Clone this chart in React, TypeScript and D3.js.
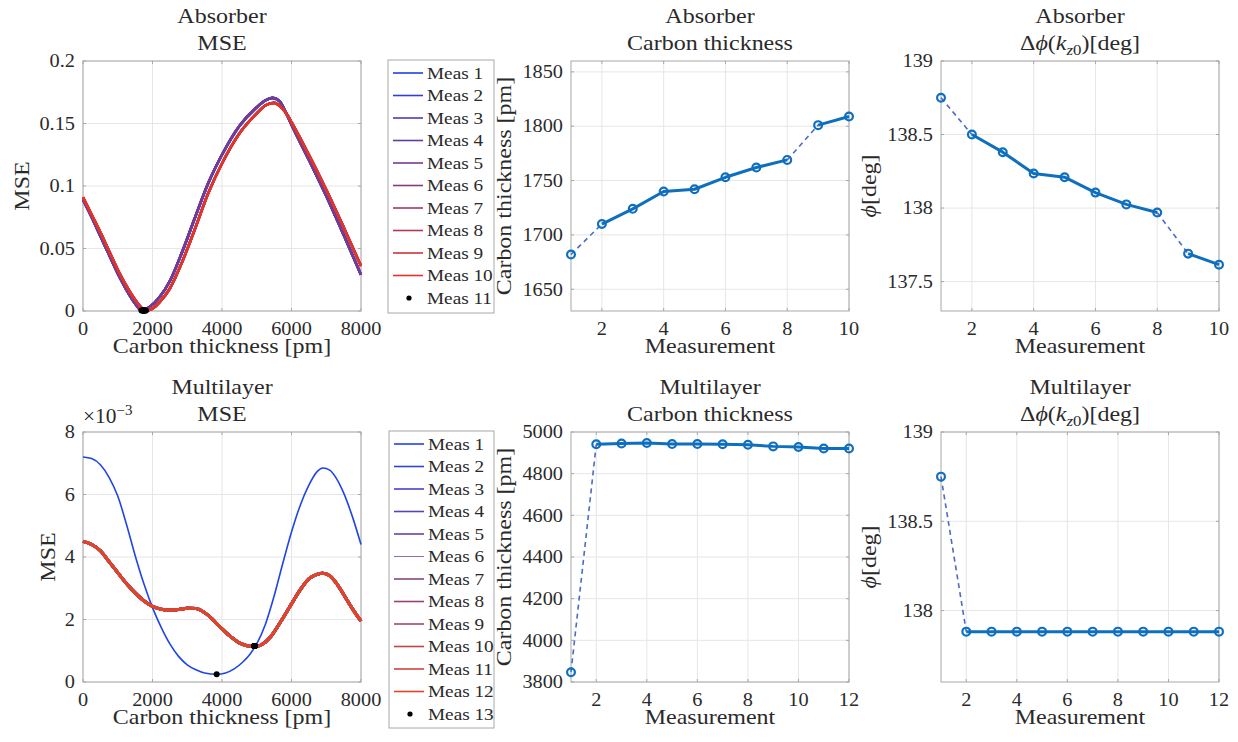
import React from "react";
import * as d3 from "d3";

// ---------------- data ----------------
const absorberMeasurements = [1, 2, 3, 4, 5, 6, 7, 8, 9, 10];
const absorberThickness = [1682, 1710, 1724, 1740, 1742, 1753, 1762, 1769, 1801, 1809];
const absorberPhase = [138.75, 138.5, 138.38, 138.235, 138.21, 138.105, 138.025, 137.97, 137.69, 137.615];
const absorberDashedFrom = [0, 7];

const multilayerMeasurements = [1, 2, 3, 4, 5, 6, 7, 8, 9, 10, 11, 12];
const multilayerThickness = [3847, 4941, 4945, 4947, 4942, 4942, 4941, 4939, 4931, 4928, 4921, 4921];
const multilayerPhase = [138.75, 137.882, 137.882, 137.882, 137.882, 137.882, 137.882, 137.882, 137.882, 137.882, 137.882, 137.882];
const multilayerDashedFrom = [0];

// MSE scans (thickness pm, MSE)
const absorberMseFirstX = [0, 250, 500, 750, 1000, 1250, 1500, 1682, 1900, 2200, 2500, 2850, 3200, 3600, 4000, 4500, 5000, 5250, 5450, 5650, 5850, 6000, 6500, 7000, 7500, 8000];
const absorberMseFirstY = [0.089, 0.075, 0.06, 0.045, 0.03, 0.017, 0.006, 0.0005, 0.003, 0.011, 0.024, 0.047, 0.073, 0.102, 0.125, 0.148, 0.163, 0.1685, 0.1705, 0.168, 0.158, 0.149, 0.121, 0.092, 0.061, 0.029];
const absorberMseLastX = [0, 250, 500, 750, 1000, 1250, 1500, 1809, 2000, 2200, 2500, 2850, 3200, 3600, 4000, 4500, 5000, 5250, 5500, 5700, 5900, 6000, 6500, 7000, 7500, 8000];
const absorberMseLastY = [0.091, 0.077, 0.063, 0.048, 0.033, 0.02, 0.009, 0.0005, 0.002, 0.007, 0.018, 0.039, 0.064, 0.094, 0.118, 0.142, 0.158, 0.1645, 0.1665, 0.163, 0.156, 0.151, 0.125, 0.097, 0.067, 0.036];
const absorberMinMse = 0.0005;

const multilayerMseFirstX = [0, 250, 500, 750, 1000, 1250, 1500, 1750, 2000, 2250, 2500, 2750, 3000, 3250, 3500, 3850, 4100, 4350, 4600, 4800, 5000, 5250, 5500, 5750, 6000, 6250, 6500, 6750, 6900, 7100, 7300, 7500, 7750, 8000];
const multilayerMseFirstY = [7.2, 7.15, 6.95, 6.55, 5.95, 5.05, 4.05, 3.15, 2.38, 1.75, 1.22, 0.82, 0.55, 0.39, 0.29, 0.25, 0.29, 0.42, 0.64, 0.88, 1.22, 1.85, 2.75, 3.8, 4.8, 5.65, 6.3, 6.75, 6.85, 6.78, 6.5, 6.05, 5.3, 4.4].map((v) => v * 1e-3);
const multilayerMseRestX = [0, 250, 500, 750, 1000, 1250, 1500, 1750, 2000, 2250, 2500, 2750, 3000, 3250, 3500, 3750, 4000, 4250, 4500, 4750, 4950, 5150, 5400, 5700, 6000, 6250, 6500, 6750, 6900, 7100, 7300, 7500, 7750, 8000];
const multilayerMseRestY = [4.5, 4.4, 4.2, 3.85, 3.5, 3.15, 2.85, 2.6, 2.42, 2.33, 2.3, 2.32, 2.36, 2.35, 2.22, 1.98, 1.7, 1.45, 1.25, 1.15, 1.13, 1.2, 1.45, 1.95, 2.5, 2.95, 3.3, 3.45, 3.48, 3.4, 3.15, 2.8, 2.35, 1.95].map((v) => v * 1e-3);
const multilayerMinMseFirst = 0.25e-3;
const multilayerMinMseRest = 1.15e-3;

// ticks
const mseXTicks = [0, 2000, 4000, 6000, 8000];
const absorberMseYTicks = [0, 0.05, 0.1, 0.15, 0.2];
const absorberMeasTicks = [2, 4, 6, 8, 10];
const absorberThickTicks = [1650, 1700, 1750, 1800, 1850];
const absorberPhaseTicks = [137.5, 138, 138.5, 139];
const multilayerMseYTicks = [0, 2e-3, 4e-3, 6e-3, 8e-3];
const multilayerMeasTicks = [2, 4, 6, 8, 10, 12];
const multilayerThickTicks = [3800, 4000, 4200, 4400, 4600, 4800, 5000];
const multilayerPhaseTicks = [138, 138.5, 139];

// ---------------- styling ----------------
const FONT = "'Liberation Serif', 'Times New Roman', serif";
const TXT = "#2a2a2a";
const BOX = "#a8a8a8";
const GRID = "#e6e6e6";
const BLUE = "#0f6fbf";
const DASH_BLUE = "#4a6cc4";
const W = 278;
const H = 250;
const COLS = [83, 571, 941];
const ROWS = [61, 432];
const LABEL_SIZE = 20;
const LABEL_SX = 1.2;
const TICK_SIZE = 19;
const TICK_SX = 1.07;

const absorberColors = d3.quantize(d3.interpolateRgb("#1f3fe6", "#e0352a"), 10);
const multilayerColors = d3.quantize(d3.interpolateRgb("#1f45e6", "#e0452a"), 12);

type Sc = d3.ScaleLinear<number, number>;

function T({ x, y, size, sx, anchor = "start", rot = 0, dy, children }: {
  x: number; y: number; size: number; sx: number; anchor?: string; rot?: number; dy?: string; children: React.ReactNode;
}) {
  return (
    <text transform={`translate(${x},${y}) rotate(${rot}) scale(${sx},1)`} fontSize={size} textAnchor={anchor as any} dy={dy} fill={TXT}>
      {children}
    </text>
  );
}

function Panel(props: {
  left: number; top: number;
  xDomain: [number, number]; yDomain: [number, number];
  xTicks: number[]; yTicks: number[];
  yFmt?: (v: number) => string;
  title: React.ReactNode[]; xLabel: React.ReactNode; yLabel: React.ReactNode; yLabelX: number;
  exponent?: boolean;
  children: (x: Sc, y: Sc) => React.ReactNode;
}) {
  const { left, top } = props;
  const x = d3.scaleLinear().domain(props.xDomain).range([left, left + W]);
  const y = d3.scaleLinear().domain(props.yDomain).range([top + H, top]);
  const fmt = props.yFmt || ((v: number) => String(v));
  const cx = left + W / 2;
  const tl = 3;
  return (
    <g>
      <rect x={left} y={top} width={W} height={H} fill="#fff" />
      {props.xTicks.map((t) => (
        <line key={"gx" + t} x1={x(t)} x2={x(t)} y1={top} y2={top + H} stroke={GRID} strokeWidth={1} />
      ))}
      {props.yTicks.map((t) => (
        <line key={"gy" + t} x1={left} x2={left + W} y1={y(t)} y2={y(t)} stroke={GRID} strokeWidth={1} />
      ))}
      <rect x={left} y={top} width={W} height={H} fill="none" stroke={BOX} strokeWidth={1} />
      {props.xTicks.map((t) => (
        <g key={"tx" + t}>
          <line x1={x(t)} x2={x(t)} y1={top + H} y2={top + H - tl} stroke={BOX} />
          <line x1={x(t)} x2={x(t)} y1={top} y2={top + tl} stroke={BOX} />
          <T x={x(t)} y={top + H + 23.5} size={TICK_SIZE} sx={TICK_SX} anchor="middle">{String(t)}</T>
        </g>
      ))}
      {props.yTicks.map((t) => (
        <g key={"ty" + t}>
          <line x1={left} x2={left + tl} y1={y(t)} y2={y(t)} stroke={BOX} />
          <line x1={left + W} x2={left + W - tl} y1={y(t)} y2={y(t)} stroke={BOX} />
          <T x={left - 8} y={y(t)} dy="0.33em" size={TICK_SIZE} sx={TICK_SX} anchor="end">{fmt(t)}</T>
        </g>
      ))}
      {props.exponent && (
        <T x={left} y={top - 9} size={20} sx={TICK_SX}>
          ×10<tspan fontSize={14} dy={-8}>−3</tspan>
        </T>
      )}
      <T x={cx} y={top - 38.5} size={LABEL_SIZE} sx={LABEL_SX} anchor="middle">{props.title[0]}</T>
      <T x={cx} y={top - 11.5} size={LABEL_SIZE} sx={LABEL_SX} anchor="middle">{props.title[1]}</T>
      <T x={cx} y={top + H + 42} size={LABEL_SIZE} sx={LABEL_SX} anchor="middle">{props.xLabel}</T>
      <T x={props.yLabelX} y={top + H / 2} rot={-90} size={LABEL_SIZE} sx={LABEL_SX} anchor="middle">{props.yLabel}</T>
      {props.children(x, y)}
    </g>
  );
}

function SeriesPlot({ x, y, meas, values, dashedFrom }: { x: Sc; y: Sc; meas: number[]; values: number[]; dashedFrom: number[] }) {
  const segs = meas.slice(0, -1).map((m, i) => ({ i, dashed: dashedFrom.includes(i) }));
  const runs: number[][] = [];
  let cur: number[] = [0];
  segs.forEach((s) => {
    if (s.dashed) {
      if (cur.length > 1) runs.push(cur);
      cur = [s.i + 1];
    } else cur.push(s.i + 1);
  });
  if (cur.length > 1) runs.push(cur);
  const line = d3.line<number>().x((i) => x(meas[i])).y((i) => y(values[i]));
  return (
    <g>
      {segs.filter((s) => s.dashed).map((s) => (
        <line key={"d" + s.i} x1={x(meas[s.i])} y1={y(values[s.i])} x2={x(meas[s.i + 1])} y2={y(values[s.i + 1])}
          stroke={DASH_BLUE} strokeWidth={1.6} strokeDasharray="5,4" />
      ))}
      {runs.map((r, k) => (
        <path key={"r" + k} d={line(r) || ""} fill="none" stroke={BLUE} strokeWidth={3} strokeLinejoin="round" />
      ))}
      {meas.map((m, i) => (
        <circle key={"m" + i} cx={x(m)} cy={y(values[i])} r={3.9} fill="none" stroke={BLUE} strokeWidth={2.2} />
      ))}
    </g>
  );
}

function Legend({ left, top, width, height, labels, colors, lastDot, thinIndex }: {
  left: number; top: number; width: number; height: number; labels: string[]; colors: string[]; lastDot: boolean; thinIndex?: number;
}) {
  return (
    <g>
      <rect x={left} y={top} width={width} height={height} fill="#fff" stroke={BOX} strokeWidth={1} />
      {labels.map((lab, i) => {
        const cy = top + 13 + i * 22.5;
        const isDot = lastDot && i === labels.length - 1;
        return (
          <g key={lab}>
            {isDot ? (
              <circle cx={left + 21} cy={cy} r={2.6} fill="#000" />
            ) : (
              <line x1={left + 5} x2={left + 35} y1={cy} y2={cy} stroke={colors[i]} strokeWidth={i === thinIndex ? 0.8 : 1.6} />
            )}
            <T x={left + 39} y={cy} dy="0.33em" size={17.5} sx={1.1}>{lab}</T>
          </g>
        );
      })}
    </g>
  );
}

const PhaseTitle = () => (
  <>
    Δ<tspan fontStyle="italic">ϕ</tspan>(<tspan fontStyle="italic">k</tspan>
    <tspan fontSize={14} dy={5} fontStyle="italic">z</tspan>
    <tspan fontSize={14}>0</tspan>
    <tspan dy={-5}>)[deg]</tspan>
  </>
);
const PhaseLabel = () => (
  <>
    <tspan fontStyle="italic">ϕ</tspan>[deg]
  </>
);

export default function App() {
  const absorberLabels = absorberMeasurements.map((m) => `Meas ${m}`).concat([`Meas ${absorberMeasurements.length + 1}`]);
  const multilayerLabels = multilayerMeasurements.map((m) => `Meas ${m}`).concat([`Meas ${multilayerMeasurements.length + 1}`]);

  return (
    <svg width={1238} height={742} style={{ display: "block", position: "absolute", left: 0, top: 0, fontFamily: FONT }}>
      <rect width={1238} height={742} fill="#fff" />

      {/* Absorber MSE */}
      <Panel left={COLS[0]} top={ROWS[0]} xDomain={[0, 8000]} yDomain={[0, 0.2]} xTicks={mseXTicks} yTicks={absorberMseYTicks}
        title={["Absorber", "MSE"]} xLabel="Carbon thickness [pm]" yLabel="MSE" yLabelX={29}>
        {(x, y) => {
          const lineFor = (xs: number[], ys: number[]) =>
            d3.line<number>().curve(d3.curveMonotoneX).x((i) => x(xs[i])).y((i) => y(ys[i]))(xs.map((_, i) => i)) || "";
          return (
            <g>
              {absorberMeasurements.map((m, k) => {
                const first = k < absorberMeasurements.length / 2;
                const d = first ? lineFor(absorberMseFirstX, absorberMseFirstY) : lineFor(absorberMseLastX, absorberMseLastY);
                return <path key={m} d={d} fill="none" stroke={absorberColors[k]} strokeWidth={2.6} />;
              })}
              {absorberThickness.map((t, i) => (
                <circle key={"dot" + i} cx={x(t)} cy={y(absorberMinMse)} r={3} fill="#000" />
              ))}
            </g>
          );
        }}
      </Panel>
      <Legend left={388} top={60} width={106} height={253} labels={absorberLabels} colors={absorberColors} lastDot={true} />

      {/* Absorber thickness */}
      <Panel left={COLS[1]} top={ROWS[0]} xDomain={[1, 10]} yDomain={[1630, 1860]} xTicks={absorberMeasTicks} yTicks={absorberThickTicks}
        title={["Absorber", "Carbon thickness"]} xLabel="Measurement" yLabel="Carbon thickness [pm]" yLabelX={COLS[1] - 60}>
        {(x, y) => <SeriesPlot x={x} y={y} meas={absorberMeasurements} values={absorberThickness} dashedFrom={absorberDashedFrom} />}
      </Panel>

      {/* Absorber phase */}
      <Panel left={COLS[2]} top={ROWS[0]} xDomain={[1, 10]} yDomain={[137.3, 139]} xTicks={absorberMeasTicks} yTicks={absorberPhaseTicks}
        title={["Absorber", <PhaseTitle key="t" />]} xLabel="Measurement" yLabel={<PhaseLabel />} yLabelX={COLS[2] - 65}>
        {(x, y) => <SeriesPlot x={x} y={y} meas={absorberMeasurements} values={absorberPhase} dashedFrom={absorberDashedFrom} />}
      </Panel>

      {/* Multilayer MSE */}
      <Panel left={COLS[0]} top={ROWS[1]} xDomain={[0, 8000]} yDomain={[0, 8e-3]} xTicks={mseXTicks} yTicks={multilayerMseYTicks}
        yFmt={(v) => String(Math.round(v * 1000))} exponent={true}
        title={["Multilayer", "MSE"]} xLabel="Carbon thickness [pm]" yLabel="MSE" yLabelX={55}>
        {(x, y) => {
          const lineFor = (xs: number[], ys: number[]) =>
            d3.line<number>().curve(d3.curveMonotoneX).x((i) => x(xs[i])).y((i) => y(ys[i]))(xs.map((_, i) => i)) || "";
          return (
            <g>
              {multilayerMeasurements.map((m, k) => {
                const d = k === 0 ? lineFor(multilayerMseFirstX, multilayerMseFirstY) : lineFor(multilayerMseRestX, multilayerMseRestY);
                return <path key={m} d={d} fill="none" stroke={multilayerColors[k]} strokeWidth={k === 0 ? 1.6 : 3} />;
              })}
              {multilayerThickness.map((t, i) => (
                <circle key={"dot" + i} cx={x(t)} cy={y(i === 0 ? multilayerMinMseFirst : multilayerMinMseRest)} r={3} fill="#000" />
              ))}
            </g>
          );
        }}
      </Panel>
      <Legend left={389} top={431} width={105} height={297} labels={multilayerLabels} colors={multilayerColors} lastDot={true} thinIndex={5} />

      {/* Multilayer thickness */}
      <Panel left={COLS[1]} top={ROWS[1]} xDomain={[1, 12]} yDomain={[3800, 5000]} xTicks={multilayerMeasTicks} yTicks={multilayerThickTicks}
        title={["Multilayer", "Carbon thickness"]} xLabel="Measurement" yLabel="Carbon thickness [pm]" yLabelX={COLS[1] - 60}>
        {(x, y) => <SeriesPlot x={x} y={y} meas={multilayerMeasurements} values={multilayerThickness} dashedFrom={multilayerDashedFrom} />}
      </Panel>

      {/* Multilayer phase */}
      <Panel left={COLS[2]} top={ROWS[1]} xDomain={[1, 12]} yDomain={[137.6, 139]} xTicks={multilayerMeasTicks} yTicks={multilayerPhaseTicks}
        title={["Multilayer", <PhaseTitle key="t" />]} xLabel="Measurement" yLabel={<PhaseLabel />} yLabelX={COLS[2] - 65}>
        {(x, y) => <SeriesPlot x={x} y={y} meas={multilayerMeasurements} values={multilayerPhase} dashedFrom={multilayerDashedFrom} />}
      </Panel>
    </svg>
  );
}
